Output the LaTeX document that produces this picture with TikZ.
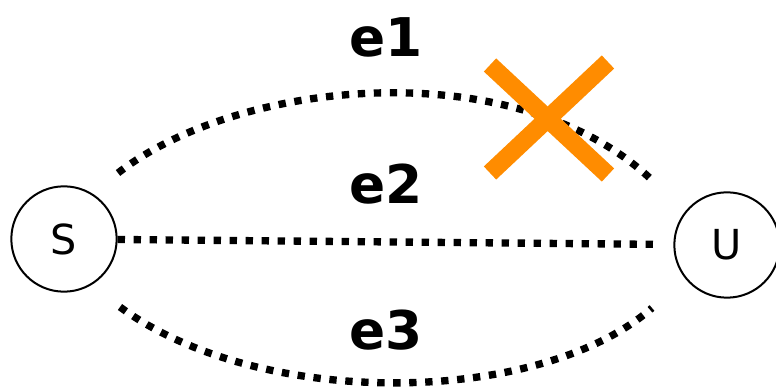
\documentclass[tikz,border=0pt]{standalone}
\usepackage{fontspec}
\setmainfont{DejaVu Sans}
\usepackage{xcolor}
\usetikzlibrary{positioning}
\definecolor{crossorange}{HTML}{FF8C00}

\begin{document}
\begin{tikzpicture}[x=0.75pt,y=-0.75pt,
  host/.style={circle,draw=black,line width=1.5pt,minimum size=79pt,inner sep=0pt,font=\fontsize{31}{31}\selectfont},
  link/.style={line width=5.5pt,dash pattern=on 5.5pt off 6.5pt},
  link label/.style={font=\fontsize{40}{40}\selectfont\bfseries}]
  \useasboundingbox (0,0) rectangle (776,391);

  \node[host] (S) at (64,239) {S};
  \node[host] (U) at (727,245) {U};

  % free ends of the curved links
  \coordinate (e1s) at (118,173);
  \coordinate (e1e) at (655,183);
  \coordinate (e3s) at (120,307);
  \coordinate (e3e) at (652,308);

  \draw[link] (e1s) .. controls (240,78) and (520,51) .. (e1e);
  \draw[link,shorten >=15pt] (S) -- (U);
  \draw[link] (e3s) .. controls (260,410) and (540,406) .. (e3e);

  \node[link label] (e1) at (386,37) {e1};
  \node[link label] (e2) at (386,184) {e2};
  \node[link label] (e3) at (386,330) {e3};

  % broken link
  \draw[crossorange,line width=13.5pt] (490,65) -- (608,175);
  \draw[crossorange,line width=13.5pt] (608,62) -- (490,173);
\end{tikzpicture}
\end{document}
